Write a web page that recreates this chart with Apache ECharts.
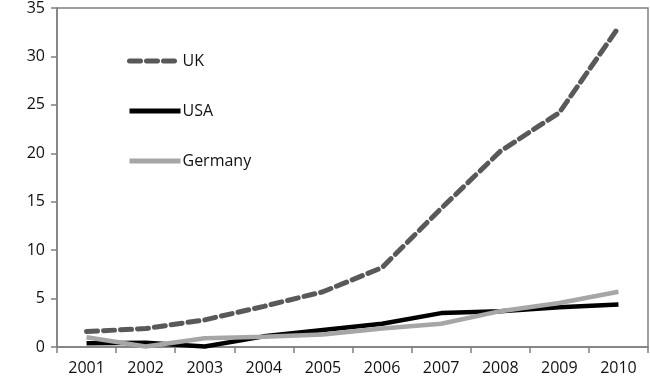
<!DOCTYPE html>
<html>
<head>
<meta charset="utf-8">
<script src="https://cdn.jsdelivr.net/npm/echarts@6/dist/echarts.min.js"></script>
<style>
html,body{margin:0;padding:0;background:#fff;}
#main{width:650px;height:376px;}
</style>
</head>
<body>
<div id="main"></div>
<script>
var years=["2001","2002","2003","2004","2005","2006","2007","2008","2009","2010"];
var uk=[1.6,1.9,2.8,4.2,5.7,8.2,14.3,20.2,24.2,33.0];
var usa=[0.4,0.45,0.05,1.1,1.75,2.4,3.5,3.7,4.1,4.4];
var germany=[1.0,0.05,0.9,1.05,1.3,1.9,2.4,3.7,4.55,5.7];
var yTicks=[0,5,10,15,20,25,30,35];

var myChart=echarts.init(document.getElementById('main'));
var font='"Open Sans", "Liberation Sans", Arial, sans-serif';

var option={
    animation:false,
    backgroundColor:'#fff',
    textStyle:{fontFamily:font},
    grid:{left:57,right:2,top:6,bottom:29,show:true,borderColor:'#808080',borderWidth:1.5,containLabel:false},
    legend:{
        orient:'vertical',
        left:122,
        top:48,
        itemWidth:51,
        itemHeight:14,
        itemGap:34,
        itemStyle:{opacity:0},
        lineStyle:{width:5},
        textStyle:{fontSize:16,color:'#111',fontFamily:font,padding:[0,0,0,-3]},
        data:['UK','USA','Germany']
    },
    xAxis:{
        type:'category',
        data:years,
        boundaryGap:true,
        axisLine:{lineStyle:{color:'#808080',width:1.5}},
        axisTick:{show:true,length:6,lineStyle:{color:'#808080',width:1.5}},
        axisLabel:{fontSize:16,color:'#111',margin:13}
    },
    yAxis:{
        type:'value',
        min:0,
        max:yTicks[yTicks.length-1],
        interval:5,
        splitLine:{show:false},
        axisLine:{show:true,lineStyle:{color:'#808080',width:1.5}},
        axisTick:{show:true,length:6,lineStyle:{color:'#808080',width:1.5}},
        axisLabel:{fontSize:16,color:'#111',margin:12}
    },
    series:[
        {name:'UK',type:'line',data:uk,showSymbol:false,symbol:'none',
         lineStyle:{color:'#595959',width:5,type:[11,6],cap:'round'},itemStyle:{color:'#595959'}},
        {name:'USA',type:'line',data:usa,showSymbol:false,symbol:'none',
         lineStyle:{color:'#000',width:4.5},itemStyle:{color:'#000'}},
        {name:'Germany',type:'line',data:germany,showSymbol:false,symbol:'none',
         lineStyle:{color:'#a6a6a6',width:4.5},itemStyle:{color:'#a6a6a6'}}
    ]
};
myChart.setOption(option);
</script>
</body>
</html>
